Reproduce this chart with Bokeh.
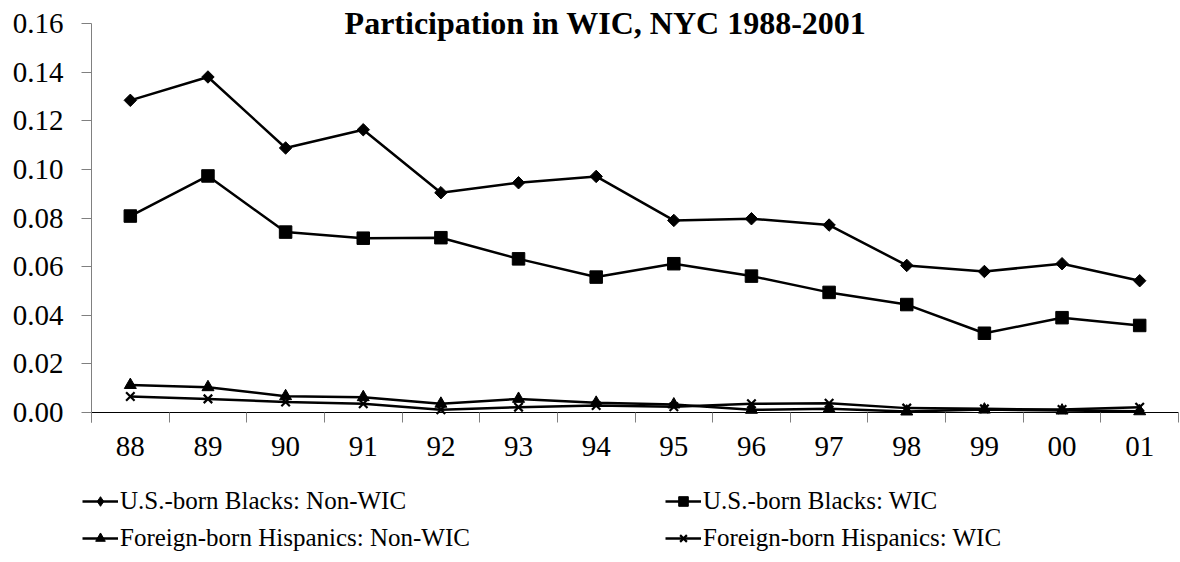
import math
from bokeh.plotting import figure
from bokeh.models import (Range1d, FixedTicker, NumeralTickFormatter,
                          Legend, LegendItem, Label)
from bokeh.embed import file_html
from bokeh.resources import INLINE

# ---- data ----
years = ["88", "89", "90", "91", "92", "93", "94", "95", "96", "97", "98", "99", "00", "01"]
blacks_nonwic = [0.1284, 0.1380, 0.1088, 0.1163, 0.0904, 0.0945, 0.0971, 0.0790, 0.0797, 0.0771, 0.0605, 0.0580, 0.0612, 0.0542]
blacks_wic = [0.0808, 0.0973, 0.0742, 0.0717, 0.0719, 0.0632, 0.0557, 0.0612, 0.0561, 0.0494, 0.0444, 0.0326, 0.0390, 0.0358]
hisp_nonwic = [0.0113, 0.0104, 0.0067, 0.0063, 0.0036, 0.0056, 0.0040, 0.0033, 0.0011, 0.0015, 0.0004, 0.0012, 0.0008, 0.0005]
hisp_wic = [0.0066, 0.0056, 0.0043, 0.0036, 0.0011, 0.0022, 0.0029, 0.0024, 0.0036, 0.0038, 0.0018, 0.0015, 0.0012, 0.0022]
y_ticks = [0.00, 0.02, 0.04, 0.06, 0.08, 0.10, 0.12, 0.14, 0.16]
title_text = "Participation in WIC, NYC 1988-2001"
labels = ["U.S.-born Blacks: Non-WIC", "U.S.-born Blacks: WIC",
          "Foreign-born Hispanics: Non-WIC", "Foreign-born Hispanics: WIC"]

xs = list(range(len(years)))
FONT = "Liberation Serif"

# layout (pixels) of the plotting area inside the 1180x562 canvas
W, H = 1180, 562
AX_LEFT, AX_RIGHT, AX_TOP, AX_BOTTOM = 91, 1178, 23, 412
x0, x1 = -0.5, len(years) - 0.5
y0, y1 = y_ticks[0], y_ticks[-1]
xpx = (AX_RIGHT - AX_LEFT) / (x1 - x0)
ypx = (AX_BOTTOM - AX_TOP) / (y1 - y0)
x_range = Range1d(x0 - AX_LEFT / xpx, x1 + (W - AX_RIGHT) / xpx)
y_range = Range1d(y0 - (H - AX_BOTTOM) / ypx, y1 + AX_TOP / ypx)

p = figure(width=W, height=H, output_backend="svg", toolbar_location=None,
           x_range=x_range, y_range=y_range,
           min_border_left=0, min_border_right=0, min_border_top=0, min_border_bottom=0)
p.outline_line_color = None
p.xgrid.visible = False
p.ygrid.visible = False
p.background_fill_color = "white"
p.border_fill_color = "white"

# x axis
xa = p.xaxis[0]
xa.fixed_location = y0
xa.bounds = (x0, x1)
xa.ticker = FixedTicker(ticks=xs, minor_ticks=[i - 0.5 for i in range(len(years) + 1)])
xa.major_label_overrides = {i: y for i, y in zip(xs, years)}
xa.major_tick_line_color = None
xa.major_tick_out = 0
xa.major_tick_in = 0
xa.minor_tick_out = 10
xa.minor_tick_in = 0
xa.minor_tick_line_color = "#808080"
xa.axis_line_color = "black"
xa.axis_line_width = 1
xa.major_label_standoff = 14
xa.major_label_text_font = FONT
xa.major_label_text_font_size = "29px"
xa.major_label_text_color = "black"

# y axis
ya = p.yaxis[0]
ya.fixed_location = x0
ya.bounds = (y0 - 10 / ypx, y1)
ya.ticker = FixedTicker(ticks=y_ticks)
ya.formatter = NumeralTickFormatter(format="0.00")
ya.major_tick_out = 10
ya.major_tick_in = 0
ya.minor_tick_line_color = None
ya.major_tick_line_color = "#808080"
ya.axis_line_color = "#808080"
ya.major_label_standoff = 18
ya.major_label_text_font = FONT
ya.major_label_text_font_size = "29px"
ya.major_label_text_color = "black"

LW = 2.5
l1 = p.line(xs, blacks_nonwic, line_color="black", line_width=LW)
m1 = p.scatter(xs, blacks_nonwic, marker="square", angle=math.pi / 4, size=8.8, color="black")
d1 = p.scatter(xs, blacks_nonwic, marker="diamond", size=7, color="black")  # legend symbol (hidden under m1)
l2 = p.line(xs, blacks_wic, line_color="black", line_width=LW)
m2 = p.scatter(xs, blacks_wic, marker="square", size=12.5, color="black")
l3 = p.line(xs, hisp_nonwic, line_color="black", line_width=LW)
m3 = p.scatter(xs, hisp_nonwic, marker="triangle", size=12, color="black")
l4 = p.line(xs, hisp_wic, line_color="black", line_width=LW)
m4 = p.scatter(xs, hisp_wic, marker="x", size=12, line_color="black", line_width=2.2)

legend = Legend(items=[LegendItem(label=labels[0], renderers=[l1, d1]),
                       LegendItem(label=labels[1], renderers=[l2, m2]),
                       LegendItem(label=labels[2], renderers=[l3, m3]),
                       LegendItem(label=labels[3], renderers=[l4, m4])],
                orientation="horizontal", ncols=2, location=(82, 6),
                glyph_width=36, glyph_height=24, label_height=37, label_width=545,
                label_standoff=2, spacing=0, padding=0, margin=0,
                border_line_color=None, background_fill_alpha=0,
                label_text_font=FONT, label_text_font_size="25px",
                label_text_color="black", label_text_baseline="middle")
p.add_layout(legend)

title = Label(x=605, y=H - 22, x_units="screen", y_units="screen", text=title_text,
              text_align="center", text_baseline="alphabetic", text_font=FONT,
              text_font_size="32px", text_font_style="bold", text_color="black")
p.add_layout(title)

open("out.html", "w").write(file_html(p, INLINE))
